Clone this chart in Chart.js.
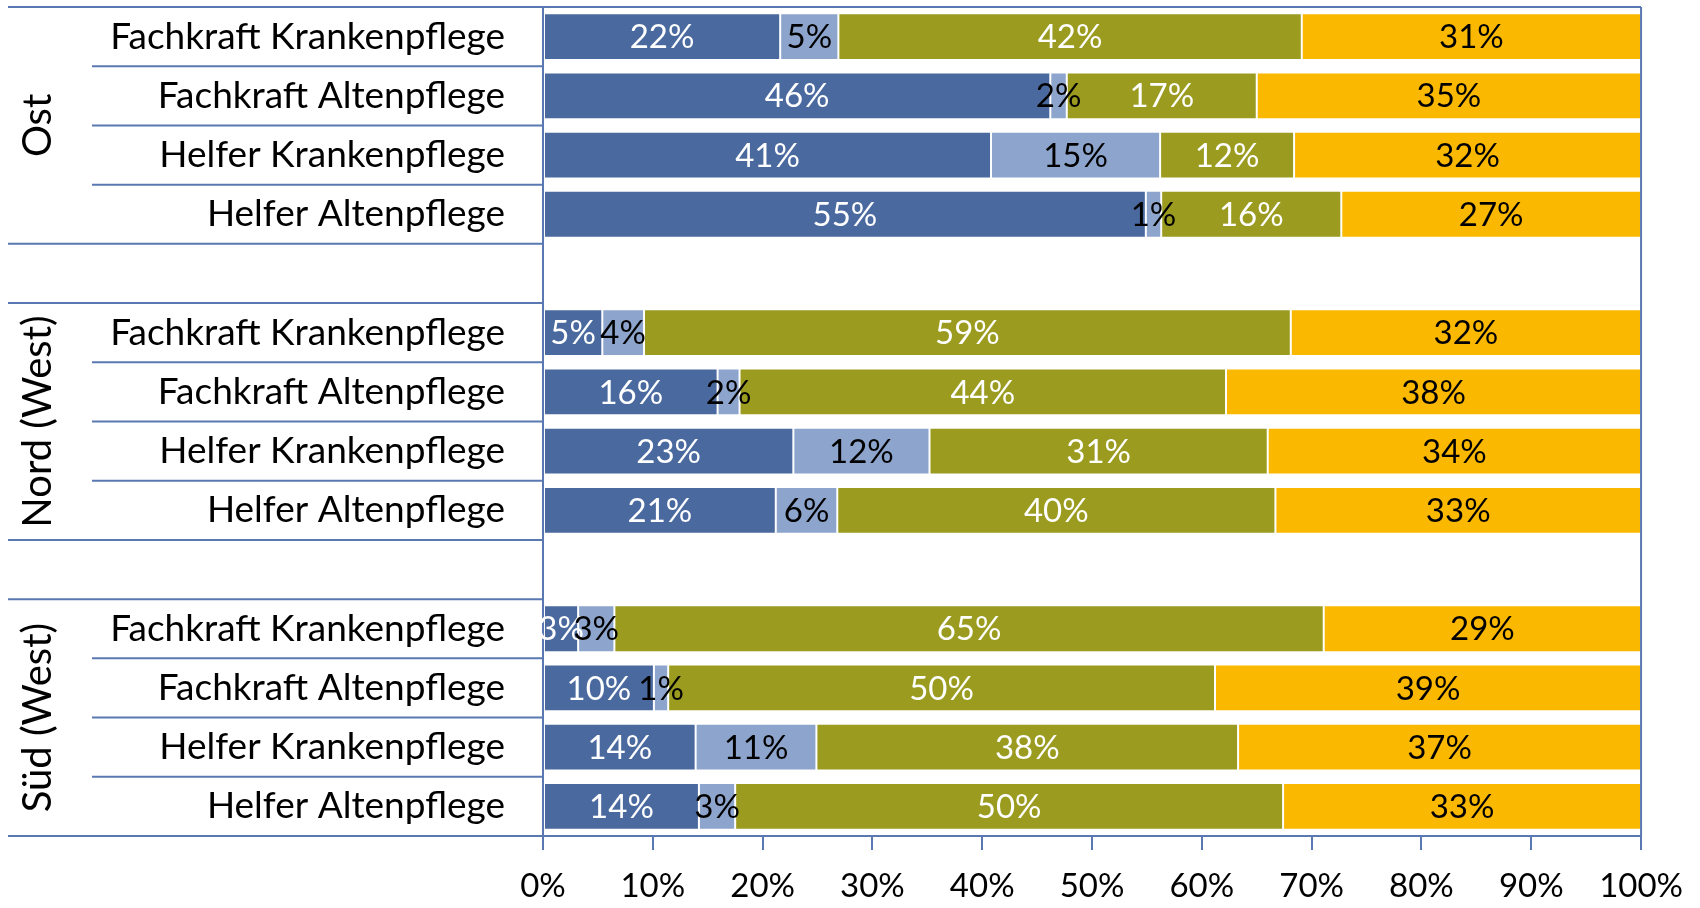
<!DOCTYPE html>
<html>
<head>
<meta charset="utf-8">
<script src="https://cdn.jsdelivr.net/npm/chart.js@4"></script>
<style>
  html, body { margin: 0; padding: 0; background: #ffffff; }
  #wrap { width: 1700px; height: 908px; }
</style>
</head>
<body>
<div id="wrap"><canvas id="c" width="1700" height="908"></canvas></div>
<script>
// ---- data ----
const groups = ['Ost', 'Nord (West)', 'Süd (West)'];
const jobs = ['Fachkraft Krankenpflege', 'Fachkraft Altenpflege', 'Helfer Krankenpflege', 'Helfer Altenpflege'];
const seriesNames = ['Anteil 1', 'Anteil 2', 'Anteil 3', 'Anteil 4'];
// values per group (Ost, Nord (West), Süd (West)) in job order
const series1 = [21.6, 46.2, 40.8, 54.9,   5.4, 15.9, 22.8, 21.2,   3.2, 10.1, 13.9, 14.2];
const series2 = [ 5.3,  1.5, 15.4,  1.4,   3.8,  2.0, 12.4,  5.6,   3.3,  1.3, 11.0,  3.3];
const series3 = [42.2, 17.3, 12.2, 16.4,  58.9, 44.3, 30.8, 39.9,  64.6, 49.8, 38.4, 49.9];
const series4 = [30.9, 35.0, 31.6, 27.3,  31.9, 37.8, 34.0, 33.3,  28.9, 38.8, 36.7, 32.6];
const xTickLabels = ['0%', '10%', '20%', '30%', '40%', '50%', '60%', '70%', '80%', '90%', '100%'];

// ---- styles ----
const colors = ['#4A6A9F', '#8DA4CC', '#9A9B1F', '#FBB800'];
const labelColors = ['#ffffff', '#000000', '#ffffff', '#000000'];
const lineColor = '#5A78B2';
const FONT = 'Lato, "Liberation Sans", sans-serif';
const FS_CAT = 37;
const FS_GROUP = 40;
const FS_NUM = 33;

// build category rows: group rows separated by an empty row
const rowLabels = [];
const groupRanges = [];
groups.forEach((g, gi) => {
  if (gi > 0) rowLabels.push('');
  const start = rowLabels.length;
  jobs.forEach(j => rowLabels.push(j));
  groupRanges.push({ name: g, start: start, end: rowLabels.length - 1 });
});
function expand(vals) {
  const out = [];
  let k = 0;
  rowLabels.forEach(l => { out.push(l === '' ? null : vals[k++]); });
  return out;
}
const allSeries = [series1, series2, series3, series4];

const datasets = allSeries.map((s, i) => ({
  label: seriesNames[i],
  data: expand(s),
  backgroundColor: colors[i],
  borderColor: 'rgba(255,255,255,0.55)',
  borderWidth: 1,
  borderSkipped: false,
  barPercentage: 0.79,
  categoryPercentage: 1.0
}));

const decoPlugin = {
  id: 'deco',
  afterDraw(chart) {
    const { ctx, chartArea } = chart;
    const y = chart.scales.y;
    const b = i => y.getPixelForValue(i - 0.5);
    const longStart = y.left + 8;
    const shortStart = y.left + 92;
    ctx.save();
    ctx.strokeStyle = lineColor;
    ctx.lineWidth = 2;
    const hline = (x0, x1, yy) => { ctx.beginPath(); ctx.moveTo(x0, yy); ctx.lineTo(x1, yy); ctx.stroke(); };
    groupRanges.forEach(gr => {
      hline(longStart, chartArea.left, b(gr.start));
      for (let i = gr.start + 1; i <= gr.end; i++) hline(shortStart, chartArea.left, b(i));
      hline(longStart, chartArea.left, b(gr.end + 1));
    });
    // frame top and right
    hline(chartArea.left, chartArea.right, chartArea.top);
    ctx.beginPath(); ctx.moveTo(chartArea.right, chartArea.top); ctx.lineTo(chartArea.right, chartArea.bottom); ctx.stroke();
    // group labels
    ctx.fillStyle = '#000000';
    ctx.font = FS_GROUP + 'px ' + FONT;
    ctx.textAlign = 'center';
    ctx.textBaseline = 'middle';
    groupRanges.forEach(gr => {
      const cy = y.getPixelForValue((gr.start + gr.end) / 2);
      ctx.save();
      ctx.translate(y.left + 38, cy);
      ctx.rotate(-Math.PI / 2);
      ctx.fillText(gr.name, 0, 0);
      ctx.restore();
    });
    ctx.restore();
  },
  afterDatasetsDraw(chart) {
    const { ctx } = chart;
    ctx.save();
    ctx.font = FS_NUM + 'px ' + FONT;
    ctx.textAlign = 'center';
    ctx.textBaseline = 'middle';
    chart.data.datasets.forEach((ds, di) => {
      const meta = chart.getDatasetMeta(di);
      meta.data.forEach((el, i) => {
        const v = ds.data[i];
        if (v === null || v === undefined) return;
        ctx.fillStyle = labelColors[di];
        ctx.fillText(Math.round(v) + '%', (el.x + el.base) / 2, el.y + 1);
      });
    });
    ctx.restore();
  }
};

new Chart(document.getElementById('c'), {
  type: 'bar',
  data: { labels: rowLabels, datasets: datasets },
  options: {
    indexAxis: 'y',
    responsive: false,
    animation: false,
    devicePixelRatio: 1,
    layout: { padding: { top: 7, right: 57, left: 0, bottom: 0 } },
    plugins: { legend: { display: false }, tooltip: { enabled: false } },
    scales: {
      x: {
        type: 'linear', stacked: true, min: 0, max: 100,
        ticks: {
          stepSize: 10, color: '#000000', padding: 17,
          font: { family: FONT, size: FS_NUM },
          callback: (v) => xTickLabels[Math.round(v / 10)]
        },
        grid: { drawOnChartArea: false, drawTicks: true, tickLength: 14, color: lineColor, lineWidth: 2 },
        border: { display: true, color: lineColor, width: 2 },
        afterFit: (s) => { s.height = 72; }
      },
      y: {
        type: 'category', stacked: true, offset: true,
        ticks: {
          autoSkip: false, color: '#000000', padding: 38,
          font: { family: FONT, size: FS_CAT }
        },
        grid: { drawOnChartArea: false, drawTicks: false },
        border: { display: true, color: lineColor, width: 2 },
        afterFit: (s) => { s.width = 543; s.paddingTop = 0; s.paddingBottom = 0; }
      }
    }
  },
  plugins: [decoPlugin]
});
</script>
</body>
</html>
